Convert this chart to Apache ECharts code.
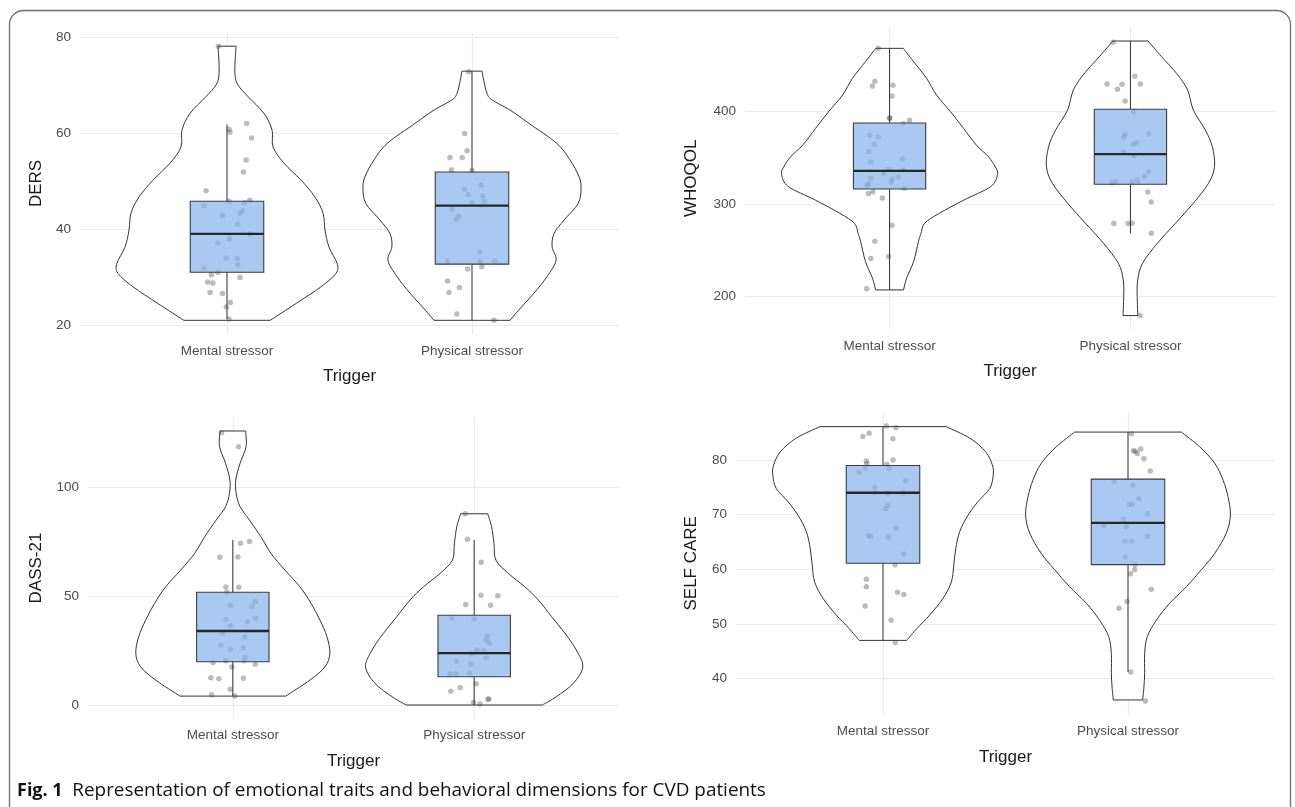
<!DOCTYPE html>
<html>
<head>
<meta charset="utf-8">
<script src="https://cdn.jsdelivr.net/npm/echarts@6/dist/echarts.min.js"></script>
<style>
  html, body { margin: 0; padding: 0; background: #fff; }
  #chart { width: 1295px; height: 807px; }
</style>
</head>
<body>
<div id="chart"></div>
<script>
// ---------- data ----------
const categories = ['Mental stressor', 'Physical stressor'];

// DERS
const dersYTicks = [20, 40, 60, 80];
const dersMentalViolin = [[78.1,0.037],[75,0.033],[72,0.033],[70,0.045],[67.6,0.086],[64.1,0.151],[60.6,0.184],[57.1,0.188],[53.7,0.233],[50.2,0.302],[46.7,0.359],[43.3,0.392],[39.8,0.4],[36.3,0.416],[32.9,0.449],[30.8,0.445],[28.0,0.384],[24.5,0.282],[21.0,0.176]];
const dersPhysicalViolin = [[72.9,0.041],[71.0,0.048],[68.3,0.061],[66.9,0.082],[64.8,0.155],[62.0,0.233],[57.9,0.345],[54.4,0.4],[50.9,0.437],[48.5,0.445],[45.3,0.433],[41.9,0.376],[39.1,0.335],[36.3,0.327],[33.5,0.343],[30.1,0.306],[26.6,0.252],[23.1,0.19],[21.0,0.155]];
const dersBoxes = [[21.25,31.0,39.0,45.8,61.8],[21.0,32.7,44.9,51.9,72.9]];
const dersMentalPoints = [[-0.035,78.1],[0.08,62.0],[0.008,60.8],[0.012,60.2],[0.10,59.0],[0.078,54.4],[0.067,51.9],[-0.086,48.0],[0.008,45.8],[0.071,45.5],[0.093,46.0],[-0.094,44.9],[0.064,43.75],[0.053,43.3],[-0.018,42.8],[0.044,41.0],[0.094,39.0],[0.01,38.0],[-0.037,37.1],[-0.003,34.0],[0.041,33.9],[0.044,32.6],[-0.094,31.9],[-0.037,31.0],[-0.064,30.5],[0.053,29.9],[-0.079,29.0],[-0.058,28.75],[-0.069,26.8],[-0.018,26.6],[0.014,24.7],[-0.003,23.8],[0.008,21.25]];
const dersPhysicalPoints = [[-0.013,72.8],[-0.03,59.9],[-0.02,56.3],[-0.09,54.9],[-0.04,54.9],[-0.084,52.3],[0,52.2],[-0.03,48.3],[0.037,49.2],[-0.015,47.2],[0.045,46.9],[0.05,45.8],[0,45.5],[-0.083,44.1],[-0.054,42.7],[-0.064,42.0],[0.033,35.3],[-0.1,33.3],[0.033,33.2],[0.092,33.3],[-0.018,31.7],[0.04,32.15],[-0.1,29.2],[-0.051,27.85],[-0.094,26.8],[-0.062,22.3],[0.09,21.0]];

// WHOQOL
const whoqolYTicks = [200, 300, 400];
const whoqolMentalViolin = [[468.5,0.057],[454,0.1],[436,0.154],[418,0.195],[400,0.253],[382,0.307],[364,0.36],[351.4,0.41],[340,0.44],[332,0.448],[319,0.42],[304.5,0.309],[290,0.206],[279.4,0.146],[268,0.13],[259.5,0.12],[238,0.1],[220,0.071],[207.2,0.058]];
const whoqolPhysicalViolin = [[476.4,0.073],[459.5,0.129],[441.5,0.191],[423.5,0.237],[401.8,0.261],[380,0.311],[362,0.34],[340.5,0.349],[322.6,0.324],[301,0.261],[279.4,0.187],[257.7,0.112],[236,0.05],[218,0.03],[200,0.028],[179.5,0.031]];
const whoqolBoxes = [[207.2,316.4,335.9,387.8,468.5],[268.5,321.5,354,402.6,476.4]];
const whoqolMentalPoints = [[-0.047,468.5],[-0.061,432.9],[-0.071,427.8],[0.014,428.5],[0.01,417],[0,392.8],[0.002,393.2],[0.083,390.7],[0.058,387],[-0.082,374.8],[-0.047,372.6],[-0.063,364.7],[-0.086,356.8],[0.054,349.2],[-0.078,345.6],[-0.005,337.7],[0.058,337],[-0.024,333.4],[-0.078,328],[0.011,327.2],[0.037,329.1],[0.007,323.7],[-0.088,322.2],[-0.093,320],[0.061,317.2],[-0.069,313.5],[-0.088,311.4],[-0.03,306.7],[0.01,277.2],[-0.061,260],[-0.004,243.3],[-0.078,241.1],[-0.095,208.4]];
const whoqolPhysicalPoints = [[-0.072,475],[0.018,438.3],[-0.097,429.9],[-0.035,429.6],[0.041,429.9],[-0.054,424.2],[-0.022,411.6],[0.014,399.7],[-0.022,375.9],[0.076,375.9],[-0.028,372.3],[0.026,366.9],[0.011,364.8],[-0.029,356.4],[0.015,352.4],[0.075,335.1],[0.058,329.7],[0.03,325.8],[0.007,324.3],[-0.059,324.3],[-0.076,323.2],[0.072,313.2],[0.086,302.4],[-0.069,279],[-0.01,279],[0.007,279.4],[0.086,268.5],[0.04,179.5]];

// DASS-21
const dassYTicks = [0, 50, 100];
const dassMentalViolin = [[126.1,0.053],[118.9,0.055],[111.2,0.03],[103.5,0.012],[97.4,0.014],[91.3,0.03],[85.1,0.069],[77.5,0.116],[69.8,0.158],[62.1,0.216],[54.4,0.278],[46.8,0.324],[39.1,0.361],[31.4,0.39],[23.8,0.402],[17.6,0.382],[11.5,0.32],[4.1,0.219]];
const dassPhysicalViolin = [[88.0,0.056],[82.1,0.072],[74.4,0.082],[66.7,0.09],[60.6,0.141],[54.4,0.21],[48.3,0.266],[40.6,0.321],[33.0,0.376],[25.3,0.423],[17.6,0.45],[10.0,0.411],[3.8,0.34],[0,0.282]];
const dassBoxes = [[4.1,19.9,34.05,51.9,75.9],[0,13.0,23.9,41.3,76.1]];
const dassMentalPoints = [[-0.047,125.3],[0.024,118.9],[0.069,75.3],[0.032,74.4],[-0.054,68.0],[0.021,68.1],[-0.029,54.3],[0.025,54.2],[-0.025,51.9],[0.093,47.5],[-0.01,45.9],[0.08,45.4],[-0.029,39.4],[0.094,39.9],[0.061,38.2],[-0.01,36.5],[-0.043,33.3],[0.049,31.4],[-0.05,27.6],[-0.01,25.6],[0.043,26.2],[0.051,22.1],[-0.029,20.4],[-0.082,19.6],[0.046,20.4],[0.093,18.7],[-0.004,17.5],[-0.091,12.6],[-0.058,12.1],[0.044,12.3],[-0.011,7.2],[-0.088,4.7],[0.008,4.1]];
const dassPhysicalPoints = [[-0.037,88.0],[-0.028,76.3],[0.029,65.7],[0.028,50.5],[0.098,50.3],[-0.035,46.2],[0.068,45.9],[-0.093,40.0],[0,39.6],[0.054,31.9],[0.05,29.9],[0.063,28.4],[0.011,25.3],[0.04,25.0],[-0.01,23.6],[0.049,21.6],[-0.073,20.1],[-0.014,18.7],[-0.1,14.3],[-0.075,14.3],[-0.018,14.7],[0.008,9.8],[-0.058,8.1],[-0.097,6.3],[0.057,2.6],[-0.003,1.2],[0.024,0.5],[0.061,2.8]];

// SELF CARE
const selfYTicks = [40, 50, 60, 70, 80];
const selfMentalViolin = [[86.1,0.257],[84.0,0.354],[81.5,0.419],[79.1,0.446],[77.3,0.45],[74.8,0.436],[72.4,0.388],[69.9,0.347],[66.9,0.313],[63.8,0.297],[60.8,0.289],[57.7,0.279],[54.7,0.245],[51.65,0.191],[49.2,0.139],[47.0,0.097]];
const selfPhysicalViolin = [[85.1,0.218],[82.4,0.293],[79.4,0.354],[76.3,0.388],[73.3,0.408],[69.9,0.418],[66.6,0.401],[62.9,0.354],[59.9,0.299],[56.8,0.238],[53.8,0.17],[50.7,0.116],[47.7,0.079],[44.6,0.068],[41.0,0.068],[38.5,0.065],[36.1,0.06]];
const selfBoxes = [[47.0,61.1,74.0,79.0,86.1],[41.2,60.85,68.5,76.5,85.1]];
const selfMentalPoints = [[0.014,86.2],[0.053,85.9],[-0.057,84.9],[-0.082,84.3],[0.04,83.9],[0.041,80.0],[-0.068,79.8],[-0.066,79.3],[0.016,79.2],[0.026,78.4],[-0.073,78.5],[-0.098,77.8],[0.093,76.2],[-0.033,75.0],[-0.034,74.0],[0.019,73.9],[0.082,74.0],[0.02,71.7],[0.011,71.1],[0.053,67.5],[-0.061,66.2],[-0.05,66.0],[0.022,65.9],[0.085,62.8],[0.049,60.85],[-0.068,58.2],[-0.068,56.8],[0.059,55.8],[0.085,55.4],[-0.073,53.3],[0.033,50.7],[0.05,46.6]];
const selfPhysicalPoints = [[0.014,84.8],[0.022,81.7],[0.03,81.6],[0.038,81.2],[0.052,82.0],[0.065,80.2],[0.091,78.0],[-0.057,76.0],[0.02,75.4],[0.044,72.9],[0.006,71.9],[0.018,71.9],[0.08,70.1],[-0.018,69.2],[-0.099,68.0],[-0.007,67.8],[0.079,66.0],[-0.012,65.2],[0.015,65.2],[-0.012,62.3],[0.029,60.85],[0.027,59.9],[0.01,59.2],[0.095,56.35],[-0.004,54.1],[-0.037,52.9],[0.011,41.2],[0.071,35.9]];

const captionBold = 'Fig. 1';
const captionText = 'Representation of emotional traits and behavioral dimensions for CVD patients';

// ---------- layout / style ----------
const FONT = '"Liberation Sans", Arial, Helvetica, sans-serif';
const panels = [
  { name: 'DERS', grid: { left: 80, top: 33, width: 539, height: 301 }, yMin: 18.15, yMax: 80.85, ticks: dersYTicks,
    violins: [dersMentalViolin, dersPhysicalViolin], boxes: dersBoxes, points: [dersMentalPoints, dersPhysicalPoints], yGap: 35, xGap: 34 },
  { name: 'WHOQOL', grid: { left: 745, top: 27.3, width: 530, height: 302 }, yMin: 164.65, yMax: 491.25, ticks: whoqolYTicks,
    violins: [whoqolMentalViolin, whoqolPhysicalViolin], boxes: whoqolBoxes, points: [whoqolMentalPoints, whoqolPhysicalPoints], yGap: 45, xGap: 34 },
  { name: 'DASS-21', grid: { left: 88, top: 417.3, width: 531, height: 301.4 }, yMin: -6.3, yMax: 132.4, ticks: dassYTicks,
    violins: [dassMentalViolin, dassPhysicalViolin], boxes: dassBoxes, points: [dassMentalPoints, dassPhysicalPoints], yGap: 43, xGap: 34 },
  { name: 'SELF CARE', grid: { left: 736, top: 412.4, width: 539, height: 301.8 }, yMin: 33.5, yMax: 88.7, ticks: selfYTicks,
    violins: [selfMentalViolin, selfPhysicalViolin], boxes: selfBoxes, points: [selfMentalPoints, selfPhysicalPoints], yGap: 36, xGap: 35 }
];
const catPos = [1, 2];
const BOX_HALF = 0.15;

// Catmull-Rom spline through screen points, as cubic bezier path segments
function splineSegments(pts) {
  let d = '';
  for (let i = 0; i < pts.length - 1; i++) {
    const p0 = pts[i - 1] || pts[i], p1 = pts[i], p2 = pts[i + 1], p3 = pts[i + 2] || pts[i + 1];
    const c1x = p1[0] + (p2[0] - p0[0]) / 6, c1y = p1[1] + (p2[1] - p0[1]) / 6;
    const c2x = p2[0] - (p3[0] - p1[0]) / 6, c2y = p2[1] - (p3[1] - p1[1]) / 6;
    d += ' C' + c1x.toFixed(2) + ',' + c1y.toFixed(2) + ' ' + c2x.toFixed(2) + ',' + c2y.toFixed(2) + ' ' + p2[0].toFixed(2) + ',' + p2[1].toFixed(2);
  }
  return d;
}

const grids = [], xAxes = [], yAxes = [], series = [];
panels.forEach((p, i) => {
  grids.push(Object.assign({ containLabel: false }, p.grid));
  xAxes.push({
    type: 'value', gridIndex: i, min: 0.4, max: 2.6,
    axisLine: { show: false },
    axisTick: { show: false, customValues: catPos },
    axisLabel: { customValues: catPos, formatter: v => categories[Math.round(v) - 1] || '',
      color: '#4d4d4d', fontSize: 13.5, fontFamily: FONT, margin: 10 },
    splitLine: { show: true, lineStyle: { color: '#ebebeb', width: 1.2 } },
    name: 'Trigger', nameLocation: 'middle', nameGap: p.xGap,
    nameTextStyle: { fontSize: 17, color: '#1a1a1a', fontFamily: FONT }
  });
  yAxes.push({
    type: 'value', gridIndex: i, min: p.yMin, max: p.yMax,
    axisLine: { show: false },
    axisTick: { show: false, customValues: p.ticks },
    axisLabel: { customValues: p.ticks, color: '#4d4d4d', fontSize: 13.5, fontFamily: FONT, margin: 9 },
    splitLine: { show: true, lineStyle: { color: '#ebebeb', width: 1.2 } },
    name: p.name, nameLocation: 'middle', nameGap: p.yGap,
    nameTextStyle: { fontSize: 17, color: '#1a1a1a', fontFamily: FONT }
  });

  // violins
  series.push({
    type: 'custom', xAxisIndex: i, yAxisIndex: i, silent: true, z: 2,
    data: p.violins.map((v, k) => [catPos[k], v[0][0]]),
    renderItem: (params, api) => {
      const prof = p.violins[params.dataIndex];
      const c = api.value(0);
      const left = prof.map(([v, h]) => api.coord([c - h, v]));
      const right = prof.slice().reverse().map(([v, h]) => api.coord([c + h, v]));
      const d = 'M' + left[0][0].toFixed(2) + ',' + left[0][1].toFixed(2) + splineSegments(left)
        + ' L' + right[0][0].toFixed(2) + ',' + right[0][1].toFixed(2) + splineSegments(right) + ' Z';
      return { type: 'path', shape: { pathData: d },
        style: { fill: '#ffffff', stroke: '#333333', lineWidth: 1 } };
    }
  });

  // jittered points
  series.push({
    type: 'scatter', xAxisIndex: i, yAxisIndex: i, silent: true, z: 3,
    symbol: 'circle', symbolSize: 5.5,
    itemStyle: { color: 'rgba(70,70,70,0.45)' },
    emphasis: { disabled: true },
    data: p.points.flatMap((pts, k) => pts.map(([j, v]) => [catPos[k] + j, v]))
  });

  // boxes
  series.push({
    type: 'custom', xAxisIndex: i, yAxisIndex: i, silent: true, z: 4,
    encode: { x: 0, y: [1, 2, 3, 4, 5] },
    data: p.boxes.map((b, k) => [catPos[k]].concat(b)),
    renderItem: (params, api) => {
      const x = api.value(0);
      const lo = api.value(1), q1 = api.value(2), med = api.value(3), q3 = api.value(4), hi = api.value(5);
      const tl = api.coord([x - BOX_HALF, q3]);
      const br = api.coord([x + BOX_HALF, q1]);
      const cTop = api.coord([x, hi]), cQ3 = api.coord([x, q3]);
      const cQ1 = api.coord([x, q1]), cLo = api.coord([x, lo]);
      const mL = api.coord([x - BOX_HALF, med]), mR = api.coord([x + BOX_HALF, med]);
      const ws = { stroke: '#3d3d3d', lineWidth: 1.1 };
      return { type: 'group', children: [
        { type: 'line', shape: { x1: cTop[0], y1: cTop[1], x2: cQ3[0], y2: cQ3[1] }, style: ws },
        { type: 'line', shape: { x1: cQ1[0], y1: cQ1[1], x2: cLo[0], y2: cLo[1] }, style: ws },
        { type: 'rect', shape: { x: tl[0], y: tl[1], width: br[0] - tl[0], height: br[1] - tl[1] },
          style: { fill: 'rgba(133,178,237,0.7)', stroke: '#3d3d3d', lineWidth: 1.1 } },
        { type: 'line', shape: { x1: mL[0], y1: mL[1], x2: mR[0], y2: mR[1] }, style: { stroke: '#262626', lineWidth: 2.3 } }
      ] };
    }
  });
});

const chart = echarts.init(document.getElementById('chart'), null, { renderer: 'canvas' });
chart.setOption({
  animation: false,
  backgroundColor: '#ffffff',
  grid: grids, xAxis: xAxes, yAxis: yAxes, series: series,
  graphic: [
    { type: 'rect', silent: true, z: 0,
      shape: { x: 9.5, y: 10.5, width: 1281, height: 840, r: 14 },
      style: { fill: 'none', stroke: '#6e6e6e', lineWidth: 1.3 } },
    { type: 'text', silent: true, left: 17, top: 781,
      style: { text: '{b|' + captionBold + '}  {n|' + captionText + '}',
        rich: {
          b: { fontFamily: '"Open Sans", "Noto Sans", sans-serif', fontWeight: 'bold', fontSize: 18, fill: '#111' },
          n: { fontFamily: '"Open Sans", "Noto Sans", sans-serif', fontSize: 18.9, fill: '#111', padding: [0, 0, 0, 3] }
        } } }
  ]
});
</script>
</body>
</html>
